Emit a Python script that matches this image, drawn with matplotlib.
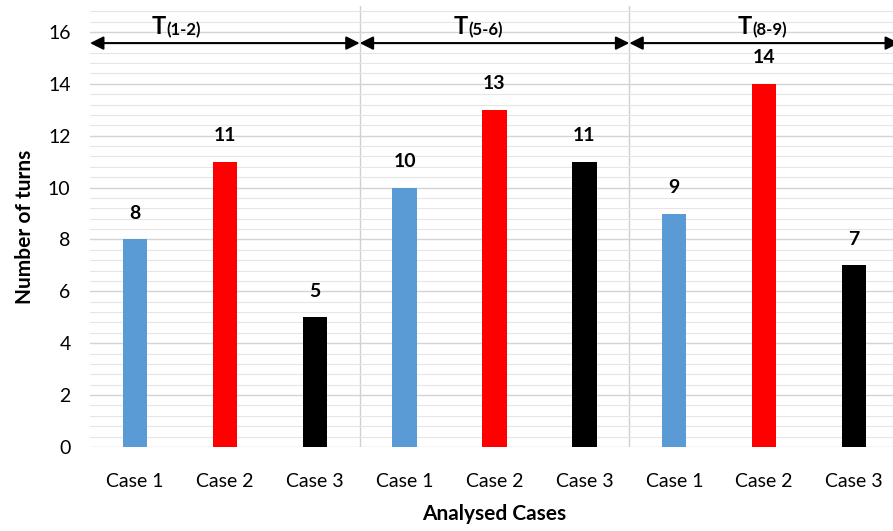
import numpy as np
import matplotlib
matplotlib.use("Agg")
import matplotlib.pyplot as plt
from matplotlib.ticker import MultipleLocator

plt.rcParams['font.family'] = ['Lato', 'DejaVu Sans']

# Data
cases = ["Case 1", "Case 2", "Case 3"] * 3
turns = [8, 11, 5, 10, 13, 11, 9, 14, 7]
bar_colors = ["#5B9BD5", "#FF0000", "#000000"] * 3
groups = ["(1-2)", "(5-6)", "(8-9)"]

W, H = 893, 531
fig = plt.figure(figsize=(W / 100, H / 100), dpi=100)
# plot area runs a bit past the right edge, like the cropped original
ax = fig.add_axes([90 / W, 1 - 447 / H, (899 - 90) / W, (447 - 6) / H])

x = np.arange(len(turns))
ax.bar(x, turns, width=0.27, color=bar_colors, zorder=3)

for xi, v in zip(x, turns):
    ax.text(xi, v + 0.68, str(v), ha='center', va='bottom',
            fontsize=14, fontweight='bold', zorder=4)

ax.set_xlim(-0.5, 8.5)
ax.set_ylim(0, 17)
ax.yaxis.set_minor_locator(MultipleLocator(0.4))
ax.set_yticks(np.arange(0, 17, 2))
ax.grid(which='minor', axis='y', color='#e6e6e6', lw=0.8, zorder=0)
ax.grid(which='major', axis='y', color='#d4d4d4', lw=1.0, zorder=0)
ax.set_xticks(x, cases)
ax.tick_params(axis='both', which='both', length=0, labelsize=14)
ax.tick_params(axis='x', pad=19)
ax.tick_params(axis='y', pad=14)
for s in ax.spines.values():
    s.set_visible(False)

# group separators
for sep in [2.5, 5.5]:
    ax.axvline(sep, color='#d0d0d0', lw=1.0, zorder=1)

# double arrows per group
arrow_y = 15.57
bounds = [(-0.5, 2.5), (2.5, 5.5), (5.5, 8.5)]
for (a, b) in bounds:
    ax.annotate('', xy=(b, arrow_y), xytext=(a, arrow_y),
                arrowprops=dict(arrowstyle='<|-|>', color='black', lw=1.5,
                                mutation_scale=20, shrinkA=0, shrinkB=0),
                annotation_clip=False, zorder=5)

t_pos = [0.26, 3.62, 6.78]
for tx, g in zip(t_pos, groups):
    t = ax.text(tx, 15.92, "T", ha='center', va='baseline', fontsize=17,
                fontweight='bold', zorder=5)
    ax.annotate(g, xy=(1, 0), xycoords=t, xytext=(0.5, -0.5),
                textcoords='offset points', ha='left', va='bottom',
                fontsize=12, fontweight='bold', zorder=5)

ax.set_ylabel("Number of turns", fontsize=15, fontweight='bold', labelpad=9)
ax.set_xlabel("Analysed Cases", fontsize=15, fontweight='bold', labelpad=10)

fig.savefig("out.png", dpi=100)
